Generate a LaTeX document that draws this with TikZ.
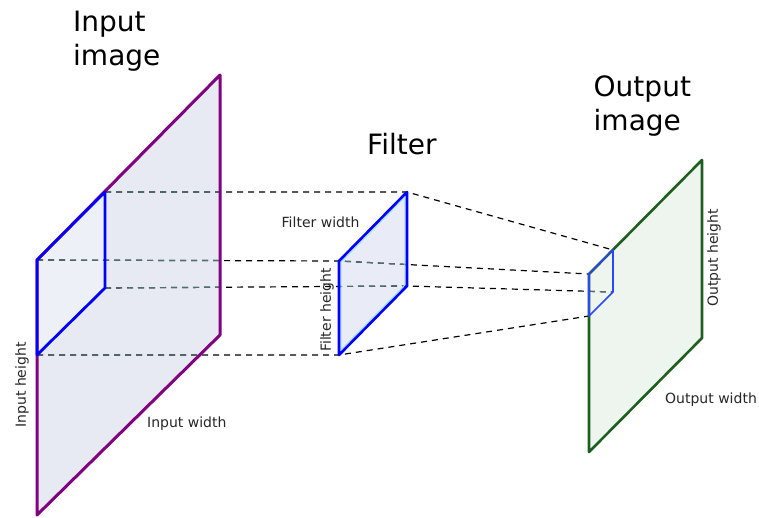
\documentclass[tikz,border=0pt]{standalone}
\usepackage{fontspec}
\setmainfont{DejaVu Sans}
\definecolor{inpurple}{HTML}{800080}
\definecolor{infillc}{HTML}{E8EAF3}
\definecolor{winfillc}{HTML}{EEF0F8}
\definecolor{filfillc}{HTML}{E9ECF6}
\definecolor{outfillc}{HTML}{EDF5EE}
\definecolor{outgreen}{HTML}{1E5E1E}
\definecolor{winblue}{HTML}{0000FF}
\definecolor{owblue}{HTML}{2848FF}
\definecolor{insidedash}{HTML}{4F7070}
\definecolor{filcyan}{HTML}{9BE3F5}
\begin{document}
\begin{tikzpicture}[x=1pt,y=-1pt,
  title/.style={font=\fontsize{28}{34}\selectfont, inner sep=0pt, align=left},
  lab/.style={font=\fontsize{14}{16}\selectfont, inner sep=0pt, text=black!85},
  guide/.style={line width=1.2pt, dash pattern=on 6pt off 5pt},
  edge/.style={line join=round, line cap=round}]
\useasboundingbox (0,0) rectangle (759,518);

% input image
\coordinate (inTL) at (37,260);
\coordinate (inTR) at (220,75);
\coordinate (inBR) at (220,335);
\coordinate (inBL) at (37,515);
% window on the input
\coordinate (wTL) at (37,260);
\coordinate (wTR) at (105,192);
\coordinate (wBR) at (105,288);
\coordinate (wBL) at (37,355);
% filter
\coordinate (fTL) at (339,261);
\coordinate (fTR) at (407,192);
\coordinate (fBR) at (407,286);
\coordinate (fBL) at (339,355);
% filter inner highlight
\coordinate (fiTL) at (341.2,261.9);
\coordinate (fiTR) at (404.8,197.3);
\coordinate (fiBR) at (404.8,285.1);
\coordinate (fiBL) at (341.2,349.7);
% output image
\coordinate (oTL) at (589,274);
\coordinate (oTR) at (702,160);
\coordinate (oBR) at (702,338);
\coordinate (oBL) at (589,452);
% window on the output
\coordinate (owTL) at (589,274);
\coordinate (owTR) at (613,250);
\coordinate (owBR) at (613,292);
\coordinate (owBL) at (589,316);

% fills
\fill[infillc] (inTL) -- (inTR) -- (inBR) -- (inBL) -- cycle;
\fill[winfillc] (wTL) -- (wTR) -- (wBR) -- (wBL) -- cycle;
\fill[filfillc] (fTL) -- (fTR) -- (fBR) -- (fBL) -- cycle;
\fill[outfillc] (oTL) -- (oTR) -- (oBR) -- (oBL) -- cycle;

% guide lines
\draw[guide, black] (wTR) -- (fTR) -- (owTR);
\draw[guide, black] (wTL) -- (fTL) -- (owTL);
\draw[guide, black] (wBR) -- (fBR) -- (owBR);
\draw[guide, black] (wBL) -- (fBL) -- (owBL);

% guide lines seen through the planes
\begin{scope}
  \clip (inTL) -- (inTR) -- (inBR) -- (inBL) -- cycle;
  \draw[guide, insidedash] (wTR) -- (fTR) -- (owTR);
  \draw[guide, insidedash] (wTL) -- (fTL) -- (owTL);
  \draw[guide, insidedash] (wBR) -- (fBR) -- (owBR);
  \draw[guide, insidedash] (wBL) -- (fBL) -- (owBL);
\end{scope}
\begin{scope}
  \clip (fTL) -- (fTR) -- (fBR) -- (fBL) -- cycle;
  \draw[guide, insidedash] (wTL) -- (fTL) -- (owTL);
  \draw[guide, insidedash] (wBR) -- (fBR) -- (owBR);
\end{scope}
\begin{scope}
  \clip (oTL) -- (oTR) -- (oBR) -- (oBL) -- cycle;
  \draw[guide, insidedash] (wBR) -- (fBR) -- (owBR);
\end{scope}

% outlines
\draw[edge, inpurple, line width=3pt] (inTL) -- (inTR) -- (inBR) -- (inBL) -- cycle;
\draw[edge, winblue, line width=2.8pt] (wTL) -- (wTR) -- (wBR) -- (wBL) -- cycle;
\draw[edge, filcyan, line width=1pt] (fiTL) -- (fiTR) -- (fiBR) -- (fiBL) -- cycle;
\draw[edge, winblue, line width=2.6pt] (fTL) -- (fTR) -- (fBR) -- (fBL) -- cycle;
\draw[edge, outgreen, line width=2.6pt] (oTL) -- (oTR) -- (oBR) -- (oBL) -- cycle;
\draw[edge, owblue, line width=1.6pt] (owTL) -- (owTR) -- (owBR) -- (owBL) -- cycle;

% titles
\node[title, anchor=north west] (inTitle) at (73,11) {Input\\image};
\node[title, anchor=base west] (filTitle) at (367,155) {Filter};
\node[title, anchor=north west] (outTitle) at (593.5,76) {Output\\image};

% dimension labels
\node[lab, anchor=base west] (fw) at (281.5,228) {Filter width};
\node[lab, anchor=base west] (iw) at (147,427) {Input width};
\node[lab, anchor=base west] (ow) at (665,403) {Output width};
\node[lab, rotate=90] (ih) at (22,385) {Input height};
\node[lab, rotate=90] (fh) at (327,310) {Filter height};
\node[lab, rotate=90] (oh) at (714,258) {Output height};
\end{tikzpicture}
\end{document}
